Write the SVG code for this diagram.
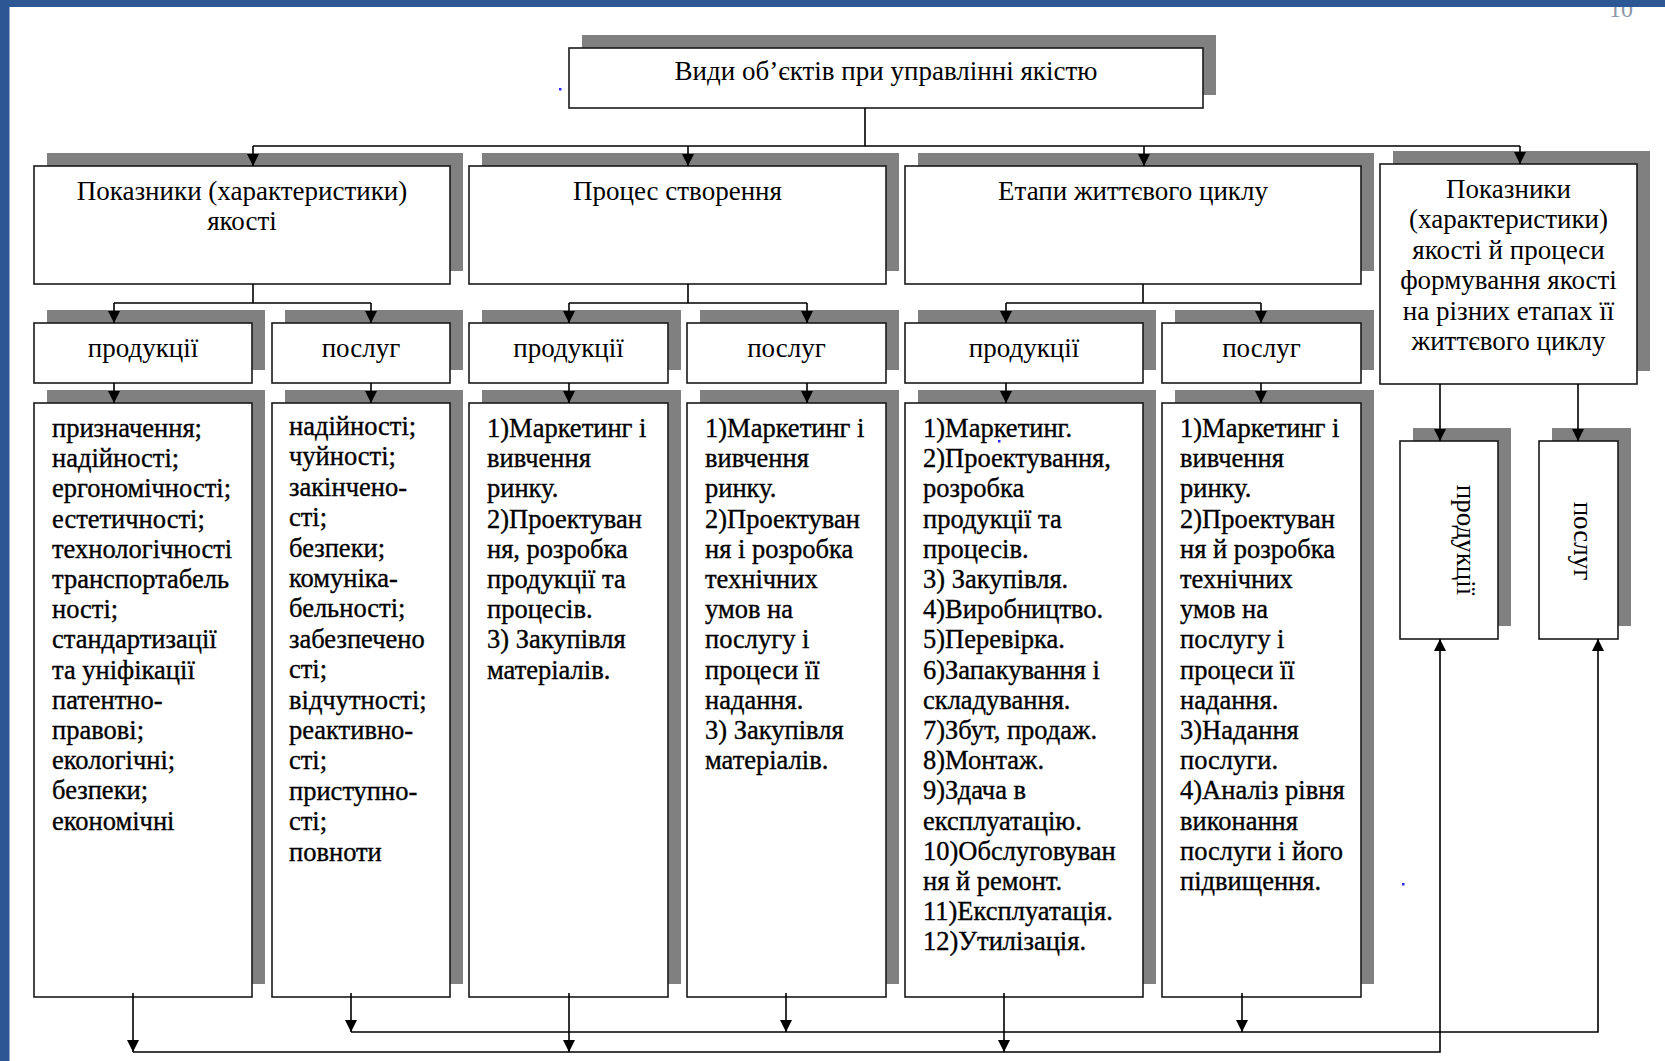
<svg xmlns="http://www.w3.org/2000/svg" width="1665" height="1061" viewBox="0 0 1665 1061">
<defs>
<marker id="ah" markerUnits="userSpaceOnUse" markerWidth="12" markerHeight="12" refX="12" refY="6" orient="auto"><path d="M0,0 L12,6 L0,12 z" fill="#000"/></marker>
<style>
.sh{fill:#808080}
.bx{fill:#fff;stroke:#1a1a1a;stroke-width:1.6}
.hd{font-family:"Liberation Serif","Times New Roman",serif;font-size:27px;fill:#000;text-anchor:middle}
.bd{font-family:"Liberation Serif","Times New Roman",serif;font-size:26.5px;fill:#000;stroke:#000;stroke-width:0.35}
.ln{fill:none;stroke:#000;stroke-width:1.6}
.ar{marker-end:url(#ah)}
.dot{fill:#2a2aff}
</style>
</defs>
<rect width="1665" height="1061" fill="#fff"/>
<text x="1621" y="17" font-family="Liberation Serif,serif" font-size="24" fill="#8c96aa" text-anchor="middle">10</text>
<rect x="0" y="0" width="1665" height="7" fill="#2d5694"/>
<rect x="0" y="0" width="9.5" height="1061" fill="#2d5694"/>

<g id="n-root"><rect class="sh" x="582" y="35" width="634" height="60"/><rect class="bx" x="569" y="48" width="634" height="60"/><text class="hd" x="886" y="80">Види об’єктів при управлінні якістю</text></g>

<g id="n-pokaznyky"><rect class="sh" x="47" y="153" width="416" height="118"/><rect class="bx" x="34" y="166" width="416" height="118"/><text class="hd" x="242" y="200">Показники (характеристики)</text><text class="hd" x="242" y="230">якості</text></g>
<g id="n-protses"><rect class="sh" x="482" y="153" width="417" height="118"/><rect class="bx" x="469" y="166" width="417" height="118"/><text class="hd" x="677.5" y="200">Процес створення</text></g>
<g id="n-etapy"><rect class="sh" x="918" y="153" width="456" height="118"/><rect class="bx" x="905" y="166" width="456" height="118"/><text class="hd" x="1133" y="200">Етапи життєвого циклу</text></g>
<g id="n-formuvannia"><rect class="sh" x="1393" y="151" width="257" height="220"/><rect class="bx" x="1380" y="164" width="257" height="220"/>
<text class="hd" x="1508.5" y="198">Показники</text><text class="hd" x="1508.5" y="228.4">(характеристики)</text><text class="hd" x="1508.5" y="258.8">якості й процеси</text><text class="hd" x="1508.5" y="289.2">формування якості</text><text class="hd" x="1508.5" y="319.6">на різних етапах її</text><text class="hd" x="1508.5" y="350">життєвого циклу</text></g>

<g id="n-a1"><rect class="sh" x="47" y="310" width="218" height="60"/><rect class="bx" x="34" y="323" width="218" height="60"/><text class="hd" x="143" y="357">продукції</text></g>
<g id="n-a2"><rect class="sh" x="285" y="310" width="178" height="60"/><rect class="bx" x="272" y="323" width="178" height="60"/><text class="hd" x="361" y="357">послуг</text></g>
<g id="n-b1"><rect class="sh" x="482" y="310" width="199" height="60"/><rect class="bx" x="469" y="323" width="199" height="60"/><text class="hd" x="568.5" y="357">продукції</text></g>
<g id="n-b2"><rect class="sh" x="700" y="310" width="199" height="60"/><rect class="bx" x="687" y="323" width="199" height="60"/><text class="hd" x="786.5" y="357">послуг</text></g>
<g id="n-c1"><rect class="sh" x="918" y="310" width="238" height="60"/><rect class="bx" x="905" y="323" width="238" height="60"/><text class="hd" x="1024" y="357">продукції</text></g>
<g id="n-c2"><rect class="sh" x="1175" y="310" width="199" height="60"/><rect class="bx" x="1162" y="323" width="199" height="60"/><text class="hd" x="1261.5" y="357">послуг</text></g>

<g id="n-a1-list"><rect class="sh" x="47" y="390" width="218" height="594"/><rect class="bx" x="34" y="403" width="218" height="594"/>
<text class="bd" x="52" y="437"><tspan x="52">призначення;</tspan><tspan x="52" dy="30.2">надійності;</tspan><tspan x="52" dy="30.2">ергономічності;</tspan><tspan x="52" dy="30.2">естетичності;</tspan><tspan x="52" dy="30.2">технологічності</tspan><tspan x="52" dy="30.2">транспортабель</tspan><tspan x="52" dy="30.2">ності;</tspan><tspan x="52" dy="30.2">стандартизації</tspan><tspan x="52" dy="30.2">та уніфікації</tspan><tspan x="52" dy="30.2">патентно-</tspan><tspan x="52" dy="30.2">правові;</tspan><tspan x="52" dy="30.2">екологічні;</tspan><tspan x="52" dy="30.2">безпеки;</tspan><tspan x="52" dy="30.2">економічні</tspan></text></g>

<g id="n-a2-list"><rect class="sh" x="285" y="390" width="178" height="594"/><rect class="bx" x="272" y="403" width="178" height="594"/>
<text class="bd" x="289" y="435"><tspan x="289">надійності;</tspan><tspan x="289" dy="30.4">чуйності;</tspan><tspan x="289" dy="30.4">закінчено-</tspan><tspan x="289" dy="30.4">сті;</tspan><tspan x="289" dy="30.4">безпеки;</tspan><tspan x="289" dy="30.4">комуніка-</tspan><tspan x="289" dy="30.4">бельності;</tspan><tspan x="289" dy="30.4">забезпечено</tspan><tspan x="289" dy="30.4">сті;</tspan><tspan x="289" dy="30.4">відчутності;</tspan><tspan x="289" dy="30.4">реактивно-</tspan><tspan x="289" dy="30.4">сті;</tspan><tspan x="289" dy="30.4">приступно-</tspan><tspan x="289" dy="30.4">сті;</tspan><tspan x="289" dy="30.4">повноти</tspan></text></g>

<g id="n-b1-list"><rect class="sh" x="482" y="390" width="199" height="594"/><rect class="bx" x="469" y="403" width="199" height="594"/>
<text class="bd" x="487" y="437"><tspan x="487">1)Маркетинг і</tspan><tspan x="487" dy="30.2">вивчення</tspan><tspan x="487" dy="30.2">ринку.</tspan><tspan x="487" dy="30.2">2)Проектуван</tspan><tspan x="487" dy="30.2">ня, розробка</tspan><tspan x="487" dy="30.2">продукції та</tspan><tspan x="487" dy="30.2">процесів.</tspan><tspan x="487" dy="30.2">3) Закупівля</tspan><tspan x="487" dy="30.2">матеріалів.</tspan></text></g>

<g id="n-b2-list"><rect class="sh" x="700" y="390" width="199" height="594"/><rect class="bx" x="687" y="403" width="199" height="594"/>
<text class="bd" x="705" y="437"><tspan x="705">1)Маркетинг і</tspan><tspan x="705" dy="30.2">вивчення</tspan><tspan x="705" dy="30.2">ринку.</tspan><tspan x="705" dy="30.2">2)Проектуван</tspan><tspan x="705" dy="30.2">ня і розробка</tspan><tspan x="705" dy="30.2">технічних</tspan><tspan x="705" dy="30.2">умов на</tspan><tspan x="705" dy="30.2">послугу і</tspan><tspan x="705" dy="30.2">процеси її</tspan><tspan x="705" dy="30.2">надання.</tspan><tspan x="705" dy="30.2">3) Закупівля</tspan><tspan x="705" dy="30.2">матеріалів.</tspan></text></g>

<g id="n-c1-list"><rect class="sh" x="918" y="390" width="238" height="594"/><rect class="bx" x="905" y="403" width="238" height="594"/>
<text class="bd" x="923" y="437"><tspan x="923">1)Маркетинг.</tspan><tspan x="923" dy="30.2">2)Проектування,</tspan><tspan x="923" dy="30.2">розробка</tspan><tspan x="923" dy="30.2">продукції та</tspan><tspan x="923" dy="30.2">процесів.</tspan><tspan x="923" dy="30.2">3) Закупівля.</tspan><tspan x="923" dy="30.2">4)Виробництво.</tspan><tspan x="923" dy="30.2">5)Перевірка.</tspan><tspan x="923" dy="30.2">6)Запакування і</tspan><tspan x="923" dy="30.2">складування.</tspan><tspan x="923" dy="30.2">7)Збут, продаж.</tspan><tspan x="923" dy="30.2">8)Монтаж.</tspan><tspan x="923" dy="30.2">9)Здача в</tspan><tspan x="923" dy="30.2">експлуатацію.</tspan><tspan x="923" dy="30.2">10)Обслуговуван</tspan><tspan x="923" dy="30.2">ня й ремонт.</tspan><tspan x="923" dy="30.2">11)Експлуатація.</tspan><tspan x="923" dy="30.2">12)Утилізація.</tspan></text></g>

<g id="n-c2-list"><rect class="sh" x="1175" y="390" width="199" height="594"/><rect class="bx" x="1162" y="403" width="199" height="594"/>
<text class="bd" x="1180" y="437"><tspan x="1180">1)Маркетинг і</tspan><tspan x="1180" dy="30.2">вивчення</tspan><tspan x="1180" dy="30.2">ринку.</tspan><tspan x="1180" dy="30.2">2)Проектуван</tspan><tspan x="1180" dy="30.2">ня й розробка</tspan><tspan x="1180" dy="30.2">технічних</tspan><tspan x="1180" dy="30.2">умов на</tspan><tspan x="1180" dy="30.2">послугу і</tspan><tspan x="1180" dy="30.2">процеси її</tspan><tspan x="1180" dy="30.2">надання.</tspan><tspan x="1180" dy="30.2">3)Надання</tspan><tspan x="1180" dy="30.2">послуги.</tspan><tspan x="1180" dy="30.2">4)Аналіз рівня</tspan><tspan x="1180" dy="30.2">виконання</tspan><tspan x="1180" dy="30.2">послуги і його</tspan><tspan x="1180" dy="30.2">підвищення.</tspan></text></g>

<g id="n-e1"><rect class="sh" x="1413" y="428" width="98" height="198"/><rect class="bx" x="1400" y="441" width="98" height="198"/><text class="hd" transform="translate(1457,540) rotate(90)">продукції</text></g>
<g id="n-e2"><rect class="sh" x="1552" y="428" width="79" height="198"/><rect class="bx" x="1539" y="441" width="79" height="198"/><text class="hd" transform="translate(1574,541) rotate(90)">послуг</text></g>

<g id="connectors">
<path class="ln" d="M865,108 V146 M253,146 H1520"/>
<path class="ln ar" d="M253,146 V166"/>
<path class="ln ar" d="M688,146 V166"/>
<path class="ln ar" d="M1144,146 V166"/>
<path class="ln ar" d="M1520,146 V164"/>
<path class="ln" d="M253,284 V303 M114,303 H371 M688,284 V303 M569,303 H807 M1143,284 V303 M1006,303 H1261"/>
<path class="ln ar" d="M114,303 V323"/>
<path class="ln ar" d="M371,303 V323"/>
<path class="ln ar" d="M569,303 V323"/>
<path class="ln ar" d="M807,303 V323"/>
<path class="ln ar" d="M1006,303 V323"/>
<path class="ln ar" d="M1261,303 V323"/>
<path class="ln ar" d="M114,383 V403"/>
<path class="ln ar" d="M371,383 V403"/>
<path class="ln ar" d="M569,383 V403"/>
<path class="ln ar" d="M807,383 V403"/>
<path class="ln ar" d="M1006,383 V403"/>
<path class="ln ar" d="M1261,383 V403"/>
<path class="ln ar" d="M1440,384 V441"/>
<path class="ln ar" d="M1578,384 V441"/>
<path class="ln ar" d="M133,993 V1052"/>
<path class="ln ar" d="M351,993 V1032"/>
<path class="ln ar" d="M569,993 V1052"/>
<path class="ln ar" d="M786,993 V1032"/>
<path class="ln ar" d="M1004,993 V1052"/>
<path class="ln ar" d="M1242,993 V1032"/>
<path class="ln ar" d="M133,1052 H1440 V639"/>
<path class="ln ar" d="M351,1032 H1598 V639"/>
</g>
<rect class="dot" x="559" y="88" width="2.5" height="2.5"/>
<rect class="dot" x="998" y="440" width="2.5" height="2.5"/>
<rect class="dot" x="1402" y="883" width="2.5" height="2.5"/>
</svg>
